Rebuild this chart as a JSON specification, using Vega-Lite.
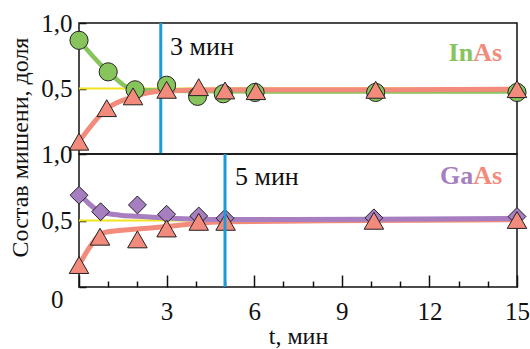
{
  "$schema": "https://vega.github.io/schema/vega-lite/v6.json",
  "padding": {"left": 7, "top": 10, "right": 0, "bottom": 0},
  "bounds": "flush",
  "spacing": 0,
  "config": {
    "font": "Liberation Serif, Times New Roman, serif",
    "view": {"stroke": "#111", "strokeWidth": 1.5},
    "text": {"font": "Liberation Serif, Times New Roman, serif"},
    "axis": {
      "domain": false,
      "grid": false,
      "labelFont": "Liberation Serif, Times New Roman, serif",
      "labelFontSize": 25,
      "labelColor": "#111",
      "titleFont": "Liberation Serif, Times New Roman, serif",
      "titleFontSize": 24,
      "titleFontWeight": "normal",
      "titleColor": "#111",
      "tickColor": "#111",
      "tickWidth": 1.5
    }
  },
  "datasets": {
    "inas_points": [
      {"t": 0, "v": 0.868, "el": "In"},
      {"t": 1.0, "v": 0.627, "el": "In"},
      {"t": 1.92, "v": 0.49, "el": "In"},
      {"t": 3.0, "v": 0.525, "el": "In"},
      {"t": 4.06, "v": 0.44, "el": "In"},
      {"t": 4.94, "v": 0.46, "el": "In"},
      {"t": 6.03, "v": 0.47, "el": "In"},
      {"t": 10.16, "v": 0.47, "el": "In"},
      {"t": 15, "v": 0.47, "el": "In"},
      {"t": 0, "v": 0.094, "el": "As"},
      {"t": 0.95, "v": 0.35, "el": "As"},
      {"t": 1.85, "v": 0.44, "el": "As"},
      {"t": 3.0, "v": 0.49, "el": "As"},
      {"t": 4.1, "v": 0.51, "el": "As"},
      {"t": 5.0, "v": 0.485, "el": "As"},
      {"t": 6.06, "v": 0.48, "el": "As"},
      {"t": 10.16, "v": 0.49, "el": "As"},
      {"t": 15, "v": 0.495, "el": "As"}
    ],
    "inas_fit": [
      {"t": 0, "v": 0.868, "el": "In"},
      {"t": 1.0, "v": 0.627, "el": "In"},
      {"t": 1.92, "v": 0.49, "el": "In"},
      {"t": 3, "v": 0.483, "el": "In"},
      {"t": 6, "v": 0.478, "el": "In"},
      {"t": 15, "v": 0.478, "el": "In"},
      {"t": 0, "v": 0.094, "el": "As"},
      {"t": 0.98, "v": 0.35, "el": "As"},
      {"t": 1.85, "v": 0.437, "el": "As"},
      {"t": 3, "v": 0.482, "el": "As"},
      {"t": 5, "v": 0.49, "el": "As"},
      {"t": 10, "v": 0.49, "el": "As"},
      {"t": 15, "v": 0.495, "el": "As"}
    ],
    "gaas_points": [
      {"t": 0, "v": 0.69, "el": "Ga"},
      {"t": 0.74, "v": 0.566, "el": "Ga"},
      {"t": 2.0, "v": 0.617, "el": "Ga"},
      {"t": 3.0, "v": 0.547, "el": "Ga"},
      {"t": 4.1, "v": 0.534, "el": "Ga"},
      {"t": 5.0, "v": 0.517, "el": "Ga"},
      {"t": 10.1, "v": 0.52, "el": "Ga"},
      {"t": 15, "v": 0.53, "el": "Ga"},
      {"t": 0, "v": 0.165, "el": "As"},
      {"t": 0.72, "v": 0.378, "el": "As"},
      {"t": 2.0, "v": 0.358, "el": "As"},
      {"t": 3.0, "v": 0.44, "el": "As"},
      {"t": 4.1, "v": 0.49, "el": "As"},
      {"t": 5.02, "v": 0.49, "el": "As"},
      {"t": 10.1, "v": 0.498, "el": "As"},
      {"t": 15, "v": 0.504, "el": "As"}
    ],
    "gaas_fit": [
      {"t": 0, "v": 0.704, "el": "Ga"},
      {"t": 0.75, "v": 0.565, "el": "Ga"},
      {"t": 1.4, "v": 0.54, "el": "Ga"},
      {"t": 2, "v": 0.532, "el": "Ga"},
      {"t": 3, "v": 0.519, "el": "Ga"},
      {"t": 4.1, "v": 0.51, "el": "Ga"},
      {"t": 5, "v": 0.508, "el": "Ga"},
      {"t": 10, "v": 0.51, "el": "Ga"},
      {"t": 15, "v": 0.515, "el": "Ga"},
      {"t": 0, "v": 0.165, "el": "As"},
      {"t": 0.4, "v": 0.31, "el": "As"},
      {"t": 0.75, "v": 0.4, "el": "As"},
      {"t": 1, "v": 0.415, "el": "As"},
      {"t": 2, "v": 0.436, "el": "As"},
      {"t": 3, "v": 0.455, "el": "As"},
      {"t": 4, "v": 0.478, "el": "As"},
      {"t": 5, "v": 0.49, "el": "As"},
      {"t": 10, "v": 0.5, "el": "As"},
      {"t": 15, "v": 0.505, "el": "As"}
    ]
  },
  "vconcat": [
    {
      "width": 438,
      "height": 131,
      "encoding": {
        "x": {"field": "t", "type": "quantitative", "scale": {"domain": [0, 15], "nice": false}, "axis": null},
        "y": {
          "field": "v", "type": "quantitative",
          "scale": {"domain": [0, 1], "nice": false},
          "axis": {
            "values": [0.5, 1],
            "labelExpr": "replace(format(datum.value, '.1f'), '.', ',')",
            "tickSize": -7,
            "labelPadding": 14,
            "title": "Состав мишени, доля",
            "titleX": -47,
            "titleY": 124,
            "titleAngle": -90,
            "titleAlign": "center",
            "titleBaseline": "bottom"
          }
        }
      },
      "layer": [
        {
          "data": {"values": [{"v": 0.5}]},
          "mark": {"type": "rule", "color": "#f2e41c", "strokeWidth": 2},
          "encoding": {"x": null}
        },
        {
          "data": {"values": [{"t": 2.8}]},
          "mark": {"type": "rule", "color": "#1b9bd7", "strokeWidth": 3},
          "encoding": {"y": null}
        },
        {
          "data": {"name": "inas_fit"},
          "transform": [{"filter": "datum.el == 'In'"}],
          "mark": {"type": "line", "color": "#88c45c", "strokeWidth": 4.5, "interpolate": "monotone"}
        },
        {
          "data": {"name": "inas_fit"},
          "transform": [{"filter": "datum.el == 'As'"}],
          "mark": {"type": "line", "color": "#f28b7b", "strokeWidth": 5, "interpolate": "monotone"}
        },
        {
          "data": {"name": "inas_points"},
          "transform": [{"filter": "datum.el == 'In'"}],
          "mark": {"type": "point", "shape": "circle", "filled": true, "size": 330, "color": "#88c45c", "stroke": "#222", "strokeWidth": 1, "opacity": 1}
        },
        {
          "data": {"name": "inas_points"},
          "transform": [{"filter": "datum.el == 'As'"}],
          "mark": {"type": "point", "shape": "triangle-up", "filled": true, "size": 380, "color": "#f28b7b", "stroke": "#222", "strokeWidth": 1, "opacity": 1}
        },
        {
          "data": {"values": [{"t": 3.12, "v": 0.815, "label": "3 мин"}]},
          "mark": {"type": "text", "align": "left", "baseline": "middle", "fontSize": 26, "color": "#111"},
          "encoding": {"text": {"field": "label"}}
        },
        {
          "data": {"values": [{"t": 13.5, "v": 0.77, "label": "In"}]},
          "mark": {"type": "text", "align": "right", "baseline": "middle", "fontSize": 26, "fontWeight": "bold", "color": "#88c45c"},
          "encoding": {"text": {"field": "label"}}
        },
        {
          "data": {"values": [{"t": 13.5, "v": 0.77, "label": "As"}]},
          "mark": {"type": "text", "align": "left", "baseline": "middle", "fontSize": 26, "fontWeight": "bold", "color": "#f28b7b"},
          "encoding": {"text": {"field": "label"}}
        }
      ]
    },
    {
      "width": 438,
      "height": 133,
      "encoding": {
        "x": {
          "field": "t", "type": "quantitative",
          "scale": {"domain": [0, 15], "nice": false},
          "axis": {
            "values": [0, 1, 2, 3, 4, 5, 6, 7, 8, 9, 10, 11, 12, 13, 14, 15],
            "labelExpr": "datum.value > 0 && datum.value % 3 == 0 ? datum.label : ''",
            "tickSize": {"condition": {"test": "datum.value % 3 == 0", "value": -12}, "value": -6},
            "labelPadding": 24,
            "labelFlush": false,
            "title": "t, мин",
            "titlePadding": 0
          }
        },
        "y": {
          "field": "v", "type": "quantitative",
          "scale": {"domain": [0, 1], "nice": false},
          "axis": {
            "values": [0, 0.5, 1],
            "labelExpr": "datum.value == 0 ? '0' : replace(format(datum.value, '.1f'), '.', ',')",
            "labelBaseline": {"condition": {"test": "datum.value == 0", "value": "top"}, "value": "middle"},
            "labelPadding": {"condition": {"test": "datum.value == 0", "value": 23}, "value": 14},
            "tickSize": -7,
            "title": null
          }
        }
      },
      "layer": [
        {
          "data": {"values": [{"v": 0.5}]},
          "mark": {"type": "rule", "color": "#f2e41c", "strokeWidth": 2},
          "encoding": {"x": null}
        },
        {
          "data": {"name": "gaas_fit"},
          "transform": [{"filter": "datum.el == 'As'"}],
          "mark": {"type": "line", "color": "#f28b7b", "strokeWidth": 5, "interpolate": "monotone"}
        },
        {
          "data": {"name": "gaas_fit"},
          "transform": [{"filter": "datum.el == 'Ga'"}],
          "mark": {"type": "line", "color": "#a77fc0", "strokeWidth": 5, "interpolate": "monotone"}
        },
        {
          "data": {"name": "gaas_points"},
          "transform": [{"filter": "datum.el == 'Ga'"}],
          "mark": {"type": "point", "shape": "diamond", "filled": true, "size": 320, "color": "#a77fc0", "stroke": "#222", "strokeWidth": 1, "opacity": 1}
        },
        {
          "data": {"name": "gaas_points"},
          "transform": [{"filter": "datum.el == 'As'"}],
          "mark": {"type": "point", "shape": "triangle-up", "filled": true, "size": 380, "color": "#f28b7b", "stroke": "#222", "strokeWidth": 1, "opacity": 1}
        },
        {
          "data": {"values": [{"t": 5}]},
          "mark": {"type": "rule", "color": "#1b9bd7", "strokeWidth": 3},
          "encoding": {"y": null}
        },
        {
          "data": {"values": [{"t": 5.34, "v": 0.83, "label": "5 мин"}]},
          "mark": {"type": "text", "align": "left", "baseline": "middle", "fontSize": 26, "color": "#111"},
          "encoding": {"text": {"field": "label"}}
        },
        {
          "data": {"values": [{"t": 13.5, "v": 0.835, "label": "Ga"}]},
          "mark": {"type": "text", "align": "right", "baseline": "middle", "fontSize": 26, "fontWeight": "bold", "color": "#a77fc0"},
          "encoding": {"text": {"field": "label"}}
        },
        {
          "data": {"values": [{"t": 13.5, "v": 0.835, "label": "As"}]},
          "mark": {"type": "text", "align": "left", "baseline": "middle", "fontSize": 26, "fontWeight": "bold", "color": "#f28b7b"},
          "encoding": {"text": {"field": "label"}}
        }
      ]
    }
  ]
}
